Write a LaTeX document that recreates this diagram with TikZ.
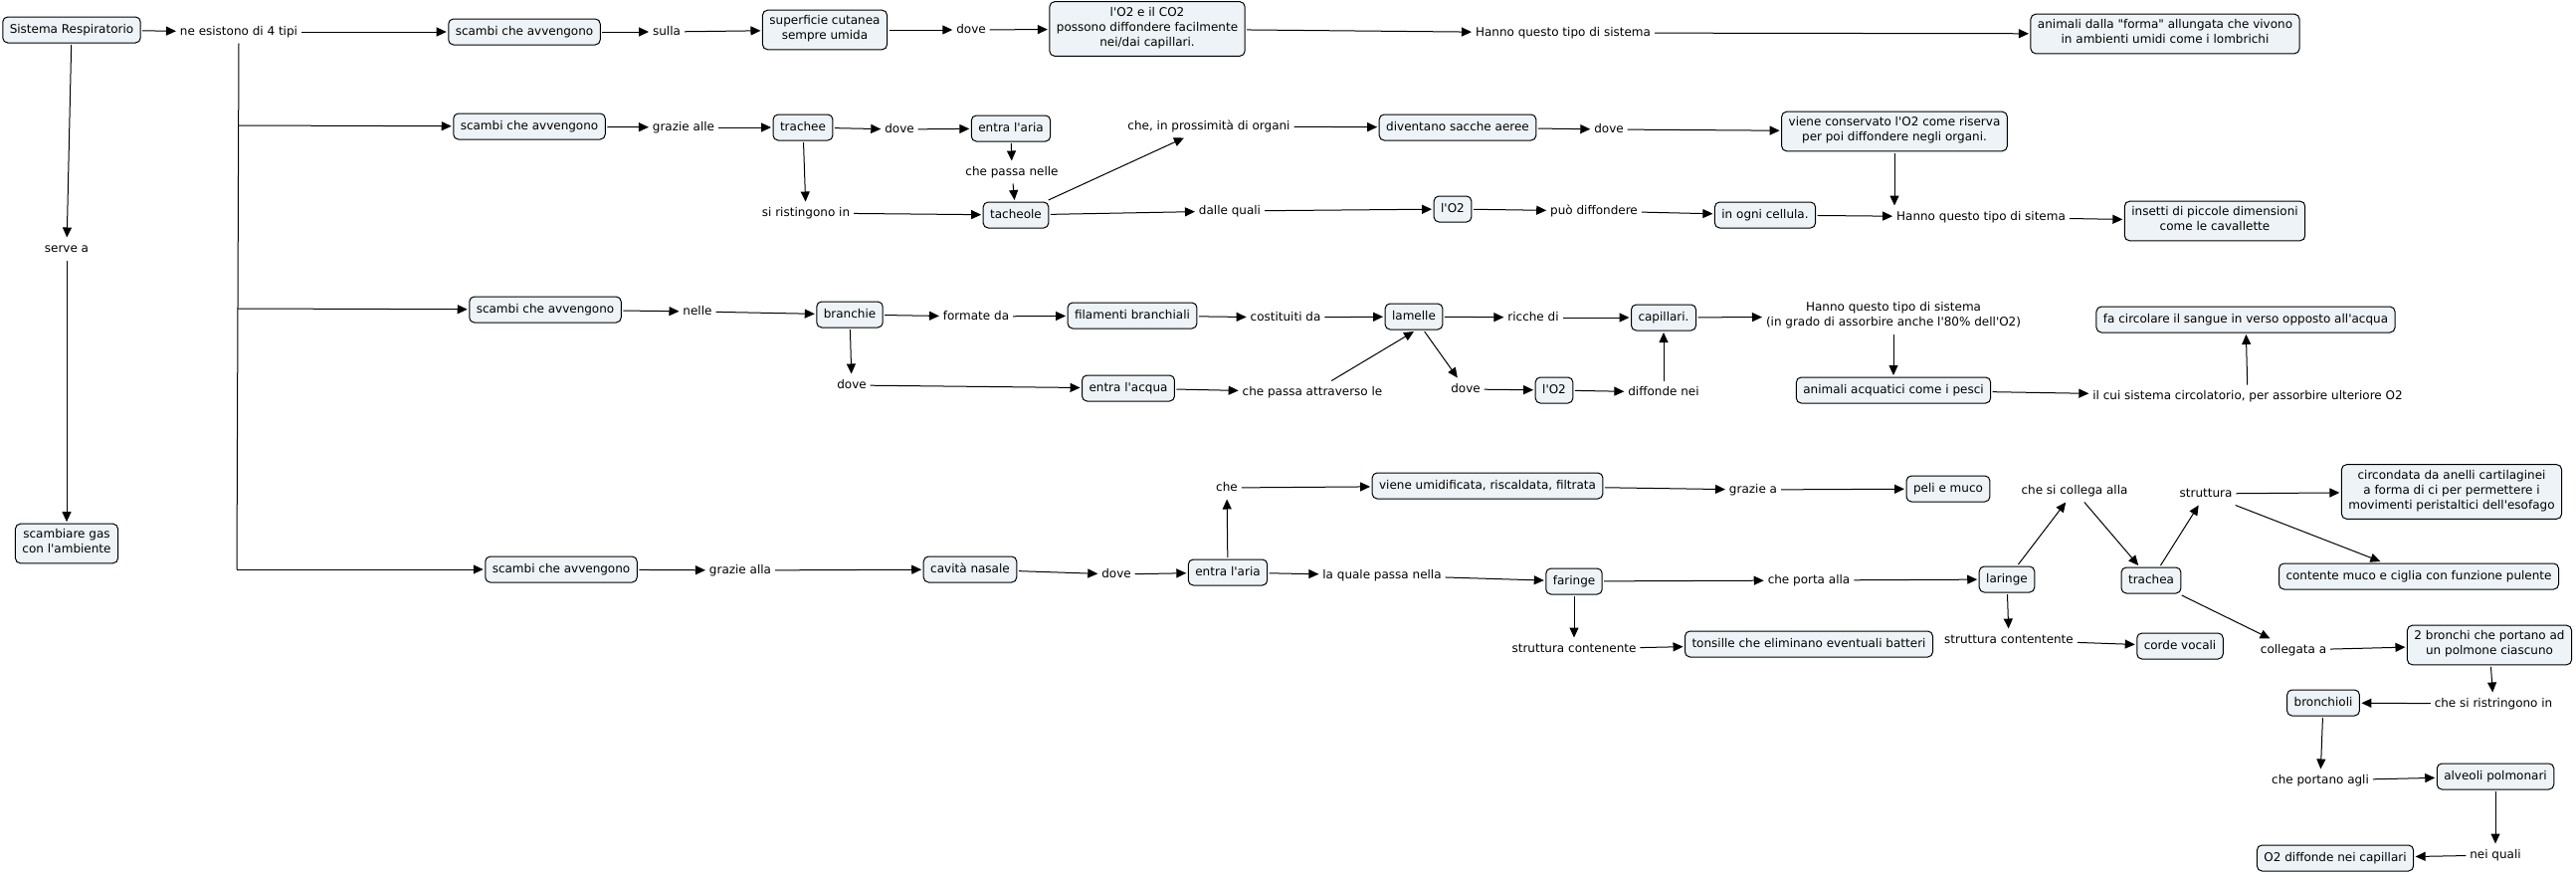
\documentclass[tikz,border=0pt]{standalone}
\usepackage{fontspec}
\setmainfont{DejaVu Sans}[Ligatures=TeXOff]
\usetikzlibrary{arrows.meta}
\tikzset{>={Triangle[width=9bp,length=10bp]}}
\definecolor{cmapfill}{RGB}{237,243,246}
\tikzset{
  concept/.style={draw, fill=cmapfill, rounded corners=5bp, line width=1bp, align=center, inner xsep=7bp, inner ysep=5.5bp, outer sep=2bp, execute at begin node=\strut, execute at end node=\strut},
  phrase/.style={align=center, inner sep=2bp, outer sep=2bp, execute at begin node=\strut, execute at end node=\strut},
}
\begin{document}
\begin{tikzpicture}[x=1bp, y=-1bp, line width=1bp, font=\fontsize{12bp}{15bp}\selectfont]
\useasboundingbox (0,0) rectangle (2589,879);

\node (SR) [concept] at (72,30) {Sistema Respiratorio};
\node (serve) [phrase] at (67,250) {serve a};
\node (GAS) [concept] at (67,546) {scambiare gas\\con l'ambiente};
\node (NE) [phrase] at (240,32) {ne esistono di 4 tipi};
\node (S1) [concept] at (527,32) {scambi che avvengono};
\node (S2) [concept] at (532,127) {scambi che avvengono};
\node (S3) [concept] at (548,311) {scambi che avvengono};
\node (S4) [concept] at (564,572) {scambi che avvengono};
\coordinate (b2) at (240,126);
\coordinate (b3) at (239,310);
\coordinate (b4) at (238,572);

\node (sulla) [phrase] at (670,32) {sulla};
\node (SUP) [concept] at (829,30) {superficie cutanea\\sempre umida};
\node (dove1) [phrase] at (976,30) {dove};
\node (DIF) [concept] at (1153,29) {l'O2 e il CO2\\possono diffondere facilmente\\nei/dai capillari.};
\node (H1) [phrase] at (1571,33) {Hanno questo tipo di sistema};
\node (LOMB) [concept] at (2176,34) {animali dalla "forma" allungata che vivono\\in ambienti umidi come i lombrichi};

\node (alle) [phrase] at (687,128) {grazie alle};
\node (TRAC) [concept] at (807,128) {trachee};
\node (dove2) [phrase] at (904,130) {dove};
\node (EA1) [concept] at (1016,129) {entra l'aria};
\node (passa) [phrase] at (1017,173) {che passa nelle};
\node (TACH) [concept] at (1021,216) {tacheole};
\node (ristr) [phrase] at (810,214) {si ristingono in};
\node (prox) [phrase] at (1215,127) {che, in prossimità di organi};
\node (dalle) [phrase] at (1236,212) {dalle quali};
\node (SACC) [concept] at (1465,128) {diventano sacche aeree};
\node (dove3) [phrase] at (1617,130) {dove};
\node (RIS) [concept] at (1904,132) {viene conservato l'O2 come riserva\\per poi diffondere negli organi.};
\node (O2a) [concept] at (1460,210) {l'O2};
\node (puo) [phrase] at (1602,212) {può diffondere};
\node (CELL) [concept] at (1774,216) {in ogni cellula.};
\node (H2) [phrase] at (1991,218) {Hanno questo tipo di sitema};
\node (INS) [concept] at (2226,222) {insetti di piccole dimensioni\\come le cavallette};

\node (nelle) [phrase] at (701,313) {nelle};
\node (BRAN) [concept] at (854,316) {branchie};
\node (formate) [phrase] at (981,318) {formate da};
\node (FIL) [concept] at (1138,317) {filamenti branchiali};
\node (costit) [phrase] at (1292,319) {costituiti da};
\node (LAM) [concept] at (1421,318) {lamelle};
\node (ricche) [phrase] at (1541,319) {ricche di};
\node (CAP) [concept] at (1672,319) {capillari.};
\node (H3) [phrase] at (1903,318) {Hanno questo tipo di sistema\\(in grado di assorbire anche l'80\% dell'O2)};
\node (PESC) [concept] at (1903,392) {animali acquatici come i pesci};
\node (cui) [phrase] at (2259,398) {il cui sistema circolatorio, per assorbire ulteriore O2};
\node (CIRC) [concept] at (2257,321) {fa circolare il sangue in verso opposto all'acqua};
\node (dove4) [phrase] at (856,387) {dove};
\node (EAQ) [concept] at (1134,390) {entra l'acqua};
\node (attr) [phrase] at (1319,394) {che passa attraverso le};
\node (dove5) [phrase] at (1473,391) {dove};
\node (O2b) [concept] at (1562,392) {l'O2};
\node (diff) [phrase] at (1672,394) {diffonde nei};

\node (alla) [phrase] at (744,573) {grazie alla};
\node (NAS) [concept] at (975,572) {cavità nasale};
\node (dove6) [phrase] at (1122,577) {dove};
\node (EA2) [concept] at (1234,575) {entra l'aria};
\node (che) [phrase] at (1233,490) {che};
\node (UMID) [concept] at (1495,488) {viene umidificata, riscaldata, filtrata};
\node (grazia) [phrase] at (1762,492) {grazie a};
\node (PELI) [concept] at (1958,491) {peli e muco};
\node (quale) [phrase] at (1389,578) {la quale passa nella};
\node (FAR) [concept] at (1582,584) {faringe};
\node (cont1) [phrase] at (1582,652) {struttura contenente};
\node (TONS) [concept] at (1818,647) {tonsille che eliminano eventuali batteri};
\node (porta) [phrase] at (1818,583) {che porta alla};
\node (LAR) [concept] at (2017,582) {laringe};
\node (coll) [phrase] at (2085,493) {che si collega alla};
\node (TRA) [concept] at (2162,583) {trachea};
\node (strut) [phrase] at (2217,496) {struttura};
\node (ANEL) [concept] at (2464,494) {circondata da anelli cartilaginei\\a forma di ci per permettere i\\movimenti peristaltici dell'esofago};
\node (MUCO) [concept] at (2431,579) {contente muco e ciglia con funzione pulente};
\node (cont2) [phrase] at (2019,643) {struttura contentente};
\node (CORD) [concept] at (2191,649) {corde vocali};
\node (colleg) [phrase] at (2305,653) {collegata a};
\node (BRON) [concept] at (2502,648) {2 bronchi che portano ad\\un polmone ciascuno};
\node (ristr2) [phrase] at (2506,707) {che si ristringono in};
\node (BRCH) [concept] at (2335,706) {bronchioli};
\node (agli) [phrase] at (2332,784) {che portano agli};
\node (ALV) [concept] at (2508,780) {alveoli polmonari};
\node (quali) [phrase] at (2508,859) {nei quali};
\node (O2D) [concept] at (2347,862) {O2 diffonde nei capillari};

\path [draw, ->] (SR) -- (NE);
\path [draw, ->] (SR) -- (serve);
\path [draw, ->] (serve) -- (GAS);
\path [draw, ->] (NE) -- (S1);
\path [draw] (NE.south) -- (b4);
\path [draw, ->] (b2) -- (S2);
\path [draw, ->] (b3) -- (S3);
\path [draw, ->] (b4) -- (S4);

\path [draw, ->] (S1) -- (sulla);
\path [draw, ->] (sulla) -- (SUP);
\path [draw, ->] (SUP) -- (dove1);
\path [draw, ->] (dove1) -- (DIF);
\path [draw, ->] (DIF) -- (H1);
\path [draw, ->] (H1) -- (LOMB);

\path [draw, ->] (S2) -- (alle);
\path [draw, ->] (alle) -- (TRAC);
\path [draw, ->] (TRAC) -- (dove2);
\path [draw, ->] (dove2) -- (EA1);
\path [draw, ->] (EA1) -- (passa);
\path [draw, ->] (passa) -- (TACH);
\path [draw, ->] (TRAC) -- (ristr);
\path [draw, ->] (ristr) -- (TACH);
\path [draw, ->] (TACH) -- (prox);
\path [draw, ->] (TACH) -- (dalle);
\path [draw, ->] (prox) -- (SACC);
\path [draw, ->] (SACC) -- (dove3);
\path [draw, ->] (dove3) -- (RIS);
\path [draw, ->] (RIS.south) -- (RIS.south |- H2.north);
\path [draw, ->] (dalle) -- (O2a);
\path [draw, ->] (O2a) -- (puo);
\path [draw, ->] (puo) -- (CELL);
\path [draw, ->] (CELL) -- (H2);
\path [draw, ->] (H2) -- (INS);

\path [draw, ->] (S3) -- (nelle);
\path [draw, ->] (nelle) -- (BRAN);
\path [draw, ->] (BRAN) -- (formate);
\path [draw, ->] (formate) -- (FIL);
\path [draw, ->] (FIL) -- (costit);
\path [draw, ->] (costit) -- (LAM);
\path [draw, ->] (LAM) -- (ricche);
\path [draw, ->] (ricche) -- (CAP);
\path [draw, ->] (CAP) -- (H3);
\path [draw, ->] (H3) -- (PESC);
\path [draw, ->] (PESC) -- (cui);
\path [draw, ->] (cui) -- (CIRC);
\path [draw, ->] (BRAN) -- (dove4);
\path [draw, ->] (dove4) -- (EAQ);
\path [draw, ->] (EAQ) -- (attr);
\path [draw, ->] (attr) -- (LAM.south);
\path [draw, ->] (LAM) -- (dove5);
\path [draw, ->] (dove5) -- (O2b);
\path [draw, ->] (O2b) -- (diff);
\path [draw, ->] (diff) -- (CAP);

\path [draw, ->] (S4) -- (alla);
\path [draw, ->] (alla) -- (NAS);
\path [draw, ->] (NAS) -- (dove6);
\path [draw, ->] (dove6) -- (EA2);
\path [draw, ->] (EA2) -- (che);
\path [draw, ->] (che) -- (UMID);
\path [draw, ->] (UMID) -- (grazia);
\path [draw, ->] (grazia) -- (PELI);
\path [draw, ->] (EA2) -- (quale);
\path [draw, ->] (quale) -- (FAR);
\path [draw, ->] (FAR) -- (porta);
\path [draw, ->] (porta) -- (LAR);
\path [draw, ->] (FAR) -- (cont1);
\path [draw, ->] (cont1) -- (TONS);
\path [draw, ->] (LAR) -- (coll);
\path [draw, ->] (coll) -- (TRA);
\path [draw, ->] (LAR) -- (cont2);
\path [draw, ->] (cont2) -- (CORD);
\path [draw, ->] (TRA) -- (strut);
\path [draw, ->] (strut) -- (ANEL);
\path [draw, ->] (strut) -- (MUCO);
\path [draw, ->] (TRA) -- (colleg);
\path [draw, ->] (colleg) -- (BRON);
\path [draw, ->] (BRON) -- (ristr2);
\path [draw, ->] (ristr2) -- (BRCH);
\path [draw, ->] (BRCH) -- (agli);
\path [draw, ->] (agli) -- (ALV);
\path [draw, ->] (ALV) -- (quali);
\path [draw, ->] (quali) -- (O2D);
\end{tikzpicture}
\end{document}
